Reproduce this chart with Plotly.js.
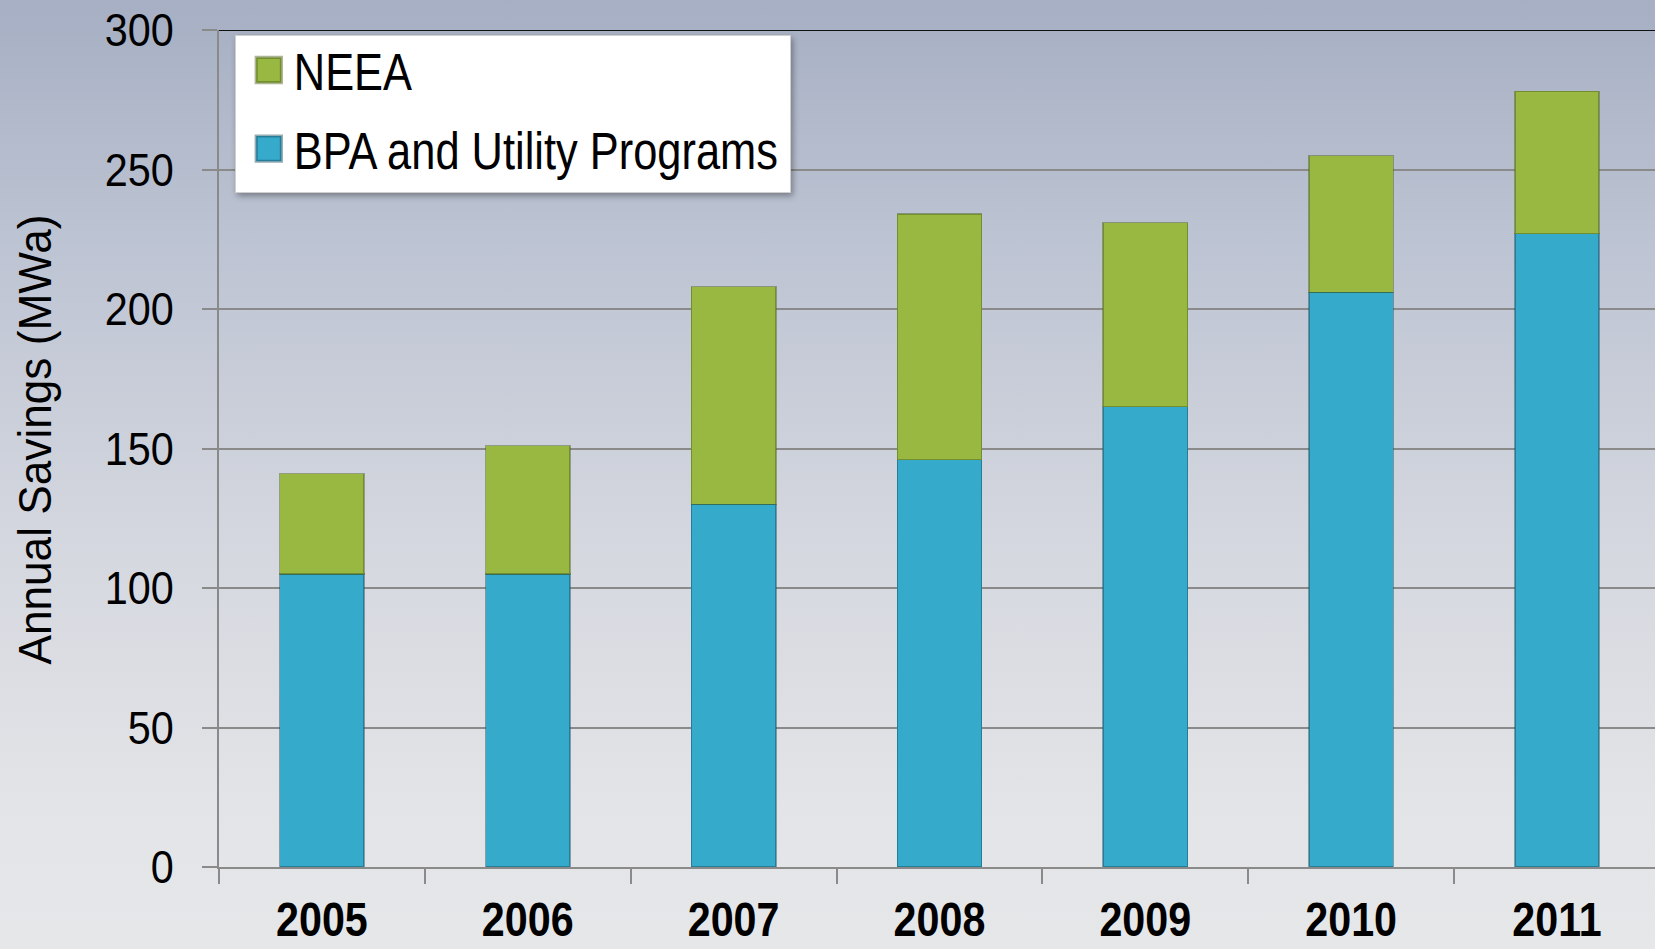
<!DOCTYPE html>
<html>
<head>
<meta charset="utf-8">
<script src="https://cdn.plot.ly/plotly-3.0.1.min.js"></script>
<style>
  html, body {
    margin: 0;
    padding: 0;
    width: 1655px;
    height: 949px;
    overflow: hidden;
    background: linear-gradient(to bottom, #a6afc3 0%, #bcc3d2 25%, #d3d6de 55%, #e3e4e7 85%, #e6e7e9 100%);
  }
  #chart { width: 1655px; height: 949px; }
  #chart .legend rect.bg { filter: drop-shadow(2px 3px 3px rgba(0, 0, 0, 0.35)); }
</style>
</head>
<body>
<div id="chart"></div>
<script>
const years = ['2005', '2006', '2007', '2008', '2009', '2010', '2011'];
const bpaUtility = [105, 105, 130, 146, 165, 206, 227];
const neea = [36, 46, 78, 88, 66, 49, 51];
const yTicks = [0, 50, 100, 150, 200, 250, 300];

const FONT = '"Liberation Sans", Arial, sans-serif';

// squeeze a text element horizontally around its anchor point (the reference uses a condensed face)
function condense(el, f, shift) {
  const x = parseFloat(el.getAttribute('x')) || 0;
  const y = parseFloat(el.getAttribute('y')) || 0;
  const prev = el.getAttribute('transform') || '';
  const pre = shift ? `translate(${shift[0]},${shift[1]}) ` : '';
  el.setAttribute('transform', `${pre}${prev} translate(${x},${y}) scale(${f},1) translate(${-x},${-y})`);
}

function finishLook(target) {
  target.querySelectorAll('.xtick text').forEach((t) => condense(t, 0.86));
  target.querySelectorAll('.ytick text').forEach((t) => condense(t, 0.9));
  target.querySelectorAll('.ytitle').forEach((t) => condense(t, 0.94, [-3, -9]));

  const legendF = 0.835;
  let maxW = 0;
  target.querySelectorAll('.legend text.legendtext').forEach((t) => {
    maxW = Math.max(maxW, t.getBBox().width);
    condense(t, legendF);
  });
  const bg = target.querySelector('.legend rect.bg');
  if (bg) {
    const w = parseFloat(bg.getAttribute('width'));
    const h = parseFloat(bg.getAttribute('height'));
    const y = parseFloat(bg.getAttribute('y')) || 0;
    bg.setAttribute('width', w - maxW * (1 - legendF) + 7);
    bg.setAttribute('y', y + 6);
    bg.setAttribute('height', h - 4);
  }
  target.querySelectorAll('.legend .legendpoints path').forEach((p) => {
    p.setAttribute('transform', 'translate(33,0) scale(2.1)');
  });
}

function drawSavings(target) {
  if (!target) return;
  const traces = [
    {
      type: 'bar',
      name: 'BPA and Utility Programs',
      legendgroup: 'bpa',
      legendrank: 2,
      x: years,
      y: bpaUtility,
      width: 0.41,
      marker: { color: '#35aacb', line: { color: 'rgba(20, 70, 90, 0.45)', width: 1.5 } },
    },
    {
      type: 'bar',
      name: 'NEEA',
      legendgroup: 'neea',
      legendrank: 1,
      x: years,
      y: neea,
      width: 0.41,
      marker: { color: '#98b841', line: { color: 'rgba(70, 90, 20, 0.45)', width: 1.5 } },
    },
  ];

  const layout = {
    width: 1655,
    height: 949,
    margin: { t: 30, r: 0, b: 82, l: 219 },
    paper_bgcolor: 'rgba(0,0,0,0)',
    plot_bgcolor: 'rgba(0,0,0,0)',
    barmode: 'stack',
    font: { family: FONT, color: '#000' },
    showlegend: true,
    legend: {
      x: 0.011,
      y: 1.0015,
      xanchor: 'left',
      yanchor: 'top',
      traceorder: 'grouped',
      tracegroupgap: 8,
      bgcolor: '#ffffff',
      bordercolor: '#cfcfcf',
      borderwidth: 1,
      font: { family: FONT, size: 52, color: '#000' },
      itemwidth: 48,
    },
    xaxis: {
      type: 'category',
      range: [-0.5, 6.476],
      tickson: 'boundaries',
      ticks: 'outside',
      ticklen: 15,
      tickwidth: 2,
      tickcolor: '#8a8a8a',
      showline: true,
      linecolor: '#8a8a8a',
      linewidth: 2,
      showgrid: false,
      ticklabelstandoff: 9,
      tickfont: { family: FONT, size: 48, color: '#000', weight: 'bold' },
    },
    yaxis: {
      range: [0, 300],
      tickvals: yTicks,
      ticks: 'outside',
      ticklen: 15,
      tickwidth: 2,
      tickcolor: '#8a8a8a',
      showline: true,
      linecolor: '#8a8a8a',
      linewidth: 2,
      showgrid: true,
      gridcolor: '#8a8a8a',
      gridwidth: 2,
      zeroline: false,
      ticklabelstandoff: 19,
      tickfont: { family: FONT, size: 46, color: '#000' },
      title: {
        text: 'Annual Savings (MWa)',
        font: { family: FONT, size: 47, color: '#000' },
        standoff: 28,
      },
    },
    shapes: [
      {
        type: 'line',
        xref: 'paper',
        yref: 'y',
        x0: 0,
        x1: 1,
        y0: 300,
        y1: 300,
        line: { color: '#111', width: 2 },
      },
    ],
  };

  Plotly.newPlot(target, traces, layout, { displayModeBar: false, staticPlot: true }).then(() => finishLook(target));
}

window.addEventListener('DOMContentLoaded', () => {
  drawSavings(document.getElementById('chart'));
});
</script>
</body>
</html>
